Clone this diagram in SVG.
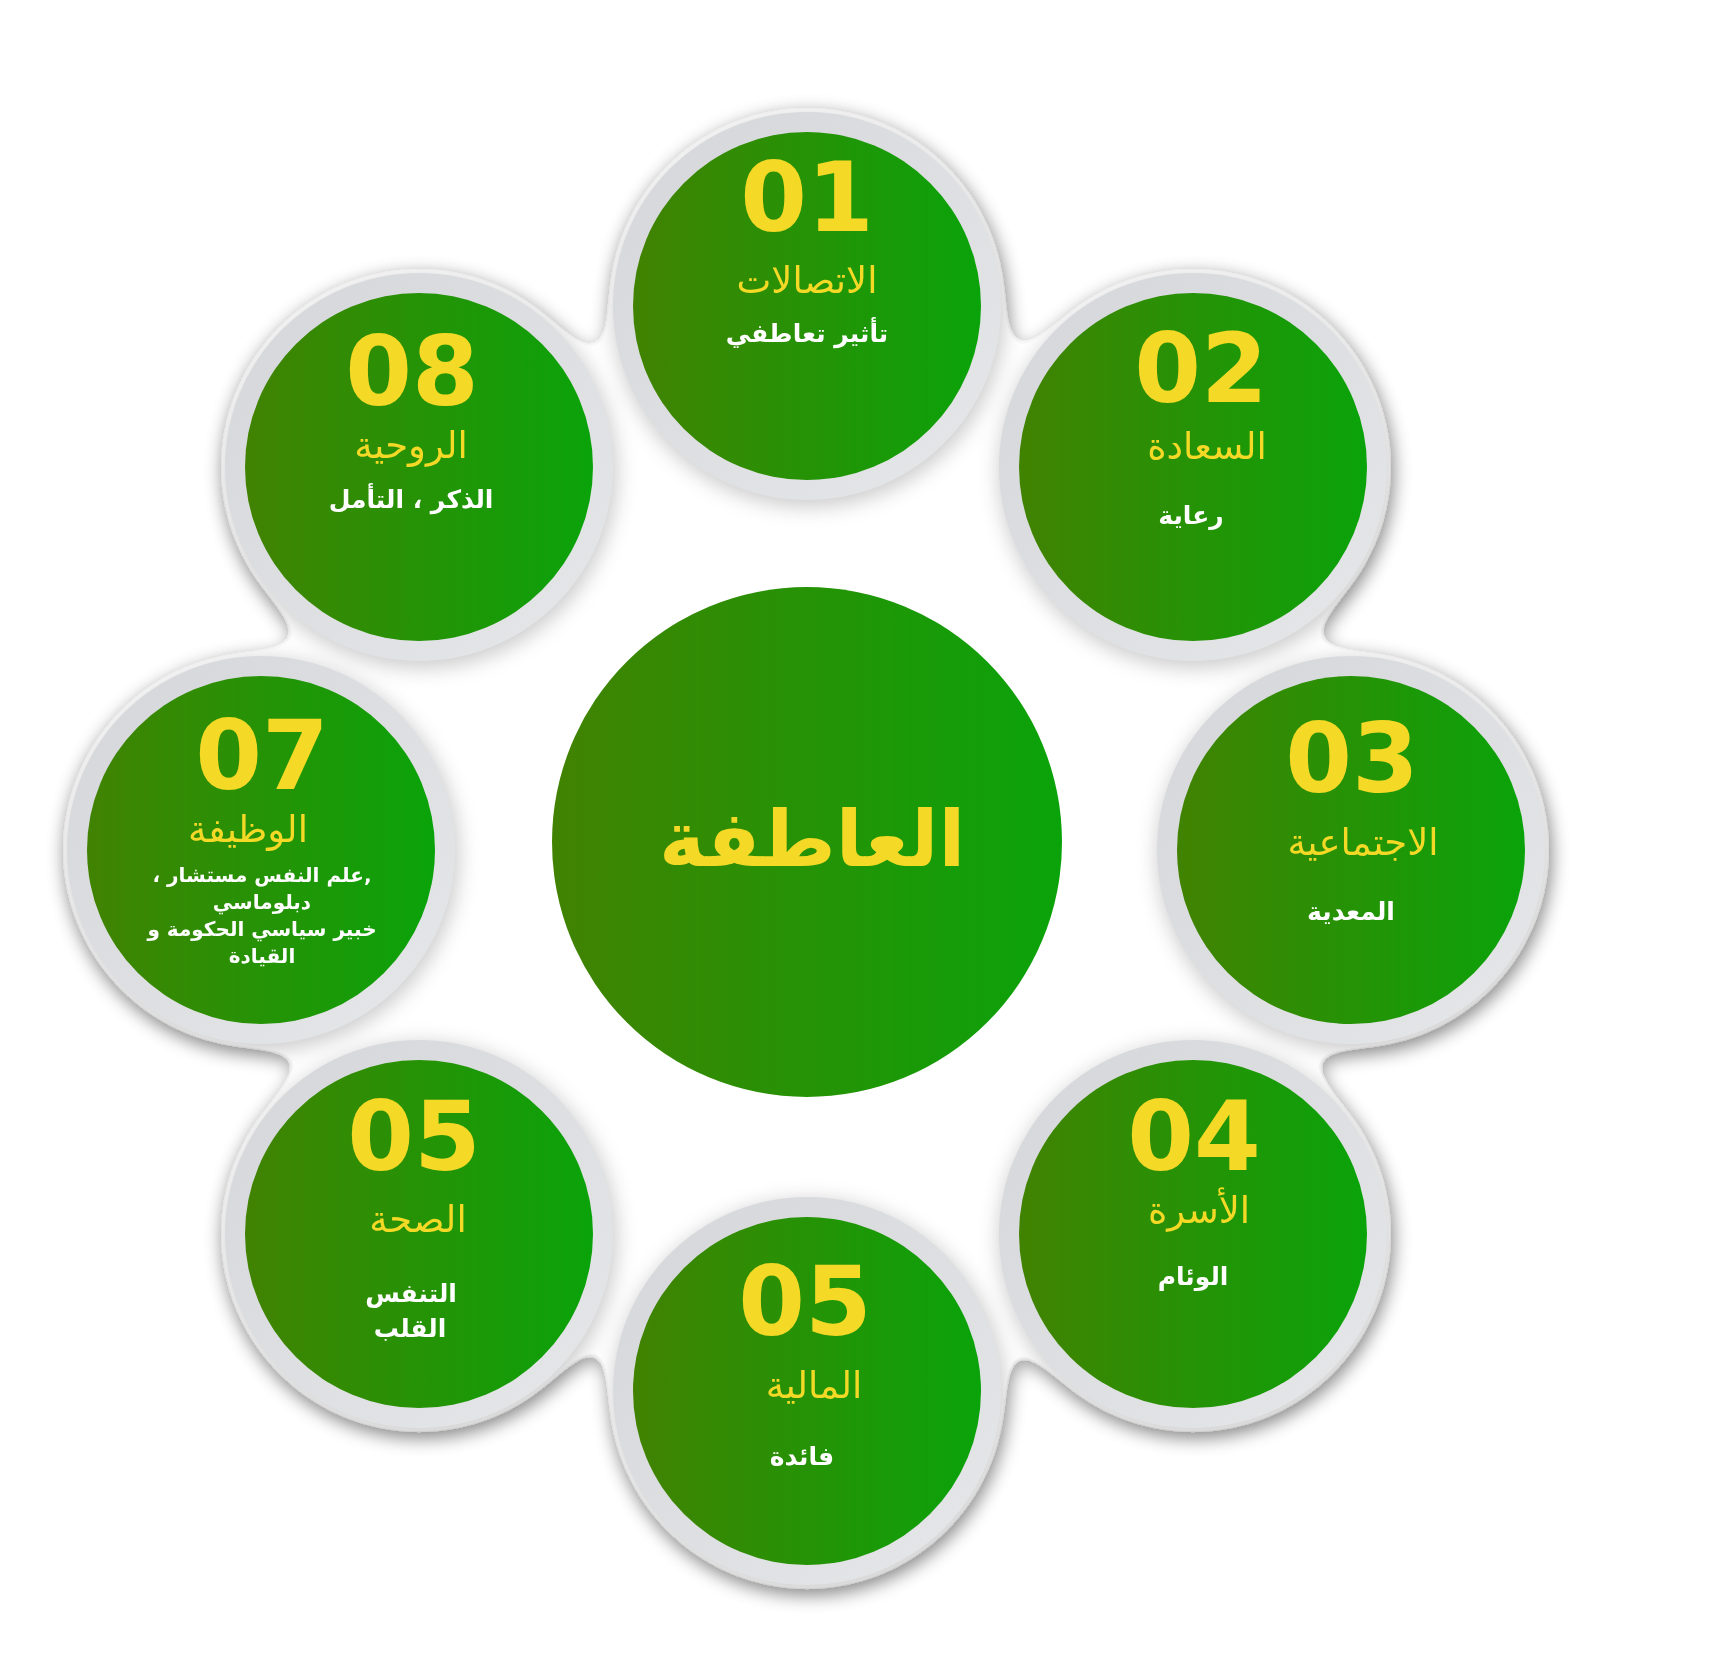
<svg xmlns="http://www.w3.org/2000/svg" width="1714" height="1660" viewBox="0 0 1714 1660">
<defs>
<linearGradient id="green" x1="0" y1="0" x2="1" y2="0">
<stop offset="0" stop-color="#418201"/>
<stop offset="1" stop-color="#0aa30a"/>
</linearGradient>
<linearGradient id="ringg" x1="0" y1="0" x2="1" y2="1">
<stop offset="0" stop-color="#d5d6d9"/>
<stop offset="1" stop-color="#e6e7e9"/>
</linearGradient>
<filter id="goo" filterUnits="userSpaceOnUse" x="0" y="0" width="1714" height="1660">
<feGaussianBlur in="SourceGraphic" stdDeviation="26" result="b"/>
<feColorMatrix in="b" type="matrix" values="0 0 0 0 1  0 0 0 0 1  0 0 0 0 1  0 0 0 30 -14" result="g"/>
<feGaussianBlur in="g" stdDeviation="9" result="s"/>
<feOffset in="s" dx="2" dy="6" result="so"/>
<feFlood flood-color="#000" flood-opacity="0.36"/>
<feComposite in2="so" operator="in" result="sh"/>
<feMerge><feMergeNode in="sh"/><feMergeNode in="g"/></feMerge>
</filter>
<filter id="soft" x="-30%" y="-30%" width="160%" height="160%">
<feGaussianBlur stdDeviation="10"/>
</filter>
</defs>
<style>
.ring{fill:url(#ringg)}
.rsh{fill:#000;opacity:0.2}
.disk{fill:url(#green)}
.num{font-family:"DejaVu Sans",sans-serif;font-weight:bold;font-size:96px;fill:#f4d926;text-anchor:middle}
.hd{font-family:"DejaVu Sans",sans-serif;font-size:37px;fill:#f4d926;text-anchor:middle;direction:rtl}
.sub{font-family:"DejaVu Sans",sans-serif;font-weight:bold;font-size:25px;fill:#ffffff;text-anchor:middle;direction:rtl}
.sm{font-family:"DejaVu Sans",sans-serif;font-weight:bold;font-size:20px;fill:#ffffff;text-anchor:middle;direction:rtl}
.ctr{font-family:"DejaVu Sans",sans-serif;font-weight:bold;font-size:78px;fill:#f4d926;text-anchor:middle;direction:rtl}
</style>
<rect width="1714" height="1660" fill="#ffffff"/>
<g id="backdrop" filter="url(#goo)" fill="#fff">
<circle cx="807" cy="845" r="505"/>
<circle cx="807" cy="306" r="198"/>
<circle cx="1193" cy="467" r="198"/>
<circle cx="1351" cy="850" r="198"/>
<circle cx="1193" cy="1234" r="198"/>
<circle cx="807" cy="1391" r="198"/>
<circle cx="419" cy="1234" r="198"/>
<circle cx="261" cy="850" r="198"/>
<circle cx="419" cy="467" r="198"/>
</g>
<g id="shadows" filter="url(#soft)">
<circle class="rsh" cx="809" cy="311" r="196"/>
<circle class="rsh" cx="1195" cy="472" r="196"/>
<circle class="rsh" cx="1353" cy="855" r="196"/>
<circle class="rsh" cx="1195" cy="1239" r="196"/>
<circle class="rsh" cx="809" cy="1396" r="196"/>
<circle class="rsh" cx="421" cy="1239" r="196"/>
<circle class="rsh" cx="263" cy="855" r="196"/>
<circle class="rsh" cx="421" cy="472" r="196"/>
</g>
<g id="connectors"></g>
<g id="center">
<circle cx="807" cy="842" r="270" fill="#fff" opacity="0.9" filter="url(#soft)"/>
<circle class="disk" cx="807" cy="842" r="255"/>
<text class="ctr" x="812" y="866">العاطفة</text>
</g>
<g id="n01">
<circle class="ring" cx="807" cy="306" r="194"/>
<circle class="disk" cx="807" cy="306" r="174"/>
<text class="num" x="807" y="231">01</text>
<text class="hd" x="807" y="293">الاتصالات</text>
<text class="sub" x="807" y="342">تأثير تعاطفي</text>
</g>
<g id="n02">
<circle class="ring" cx="1193" cy="467" r="194"/>
<circle class="disk" cx="1193" cy="467" r="174"/>
<text class="num" x="1201" y="402">02</text>
<text class="hd" x="1207" y="459">السعادة</text>
<text class="sub" x="1191" y="524">رعاية</text>
</g>
<g id="n03">
<circle class="ring" cx="1351" cy="850" r="194"/>
<circle class="disk" cx="1351" cy="850" r="174"/>
<text class="num" x="1352" y="792">03</text>
<text class="hd" x="1363" y="855">الاجتماعية</text>
<text class="sub" x="1351" y="920">المعدية</text>
</g>
<g id="n04">
<circle class="ring" cx="1193" cy="1234" r="194"/>
<circle class="disk" cx="1193" cy="1234" r="174"/>
<text class="num" x="1194" y="1170">04</text>
<text class="hd" x="1199" y="1223">الأسرة</text>
<text class="sub" x="1193" y="1285">الوئام</text>
</g>
<g id="n05b">
<circle class="ring" cx="807" cy="1391" r="194"/>
<circle class="disk" cx="807" cy="1391" r="174"/>
<text class="num" x="805" y="1335">05</text>
<text class="hd" x="814" y="1398">المالية</text>
<text class="sub" x="802" y="1465">فائدة</text>
</g>
<g id="n05l">
<circle class="ring" cx="419" cy="1234" r="194"/>
<circle class="disk" cx="419" cy="1234" r="174"/>
<text class="num" x="414" y="1170">05</text>
<text class="hd" x="418" y="1232">الصحة</text>
<text class="sub" x="411" y="1302">التنفس</text>
<text class="sub" x="410" y="1337">القلب</text>
</g>
<g id="n07">
<circle class="ring" cx="261" cy="850" r="194"/>
<circle class="disk" cx="261" cy="850" r="174"/>
<text class="num" x="262" y="789">07</text>
<text class="hd" x="248" y="842">الوظيفة</text>
<text class="sm" x="262" y="882">,علم النفس مستشار ،</text>
<text class="sm" x="262" y="909">دبلوماسي</text>
<text class="sm" x="262" y="936">خبير سياسي الحكومة و</text>
<text class="sm" x="262" y="963">القيادة</text>
</g>
<g id="n08">
<circle class="ring" cx="419" cy="467" r="194"/>
<circle class="disk" cx="419" cy="467" r="174"/>
<text class="num" x="412" y="405">08</text>
<text class="hd" x="411" y="458">الروحية</text>
<text class="sub" x="411" y="508">الذكر ، التأمل</text>
</g>
</svg>
